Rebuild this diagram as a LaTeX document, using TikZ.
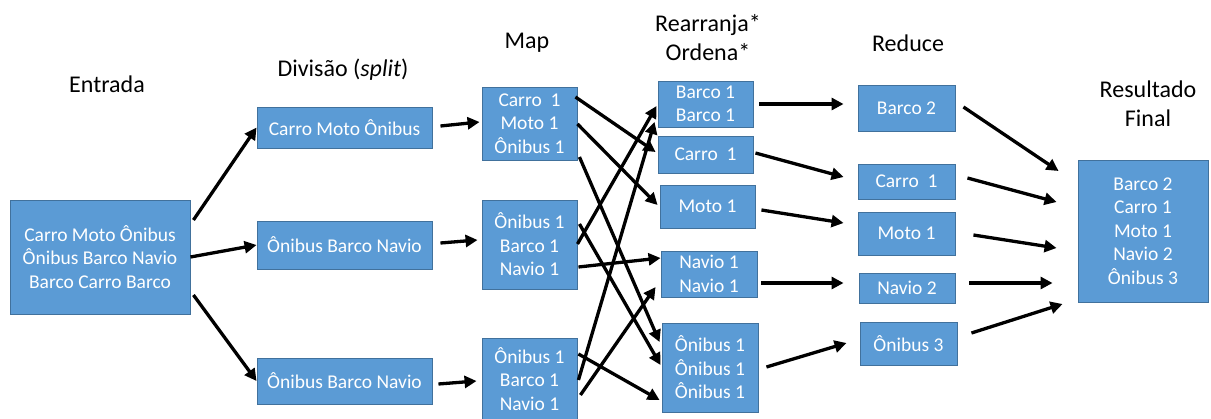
\documentclass[tikz,border=0pt]{standalone}
\usepackage{fontspec}
\setmainfont{Carlito}
\usetikzlibrary{calc,arrows.meta}
\definecolor{boxblue}{HTML}{5B9BD5}
\definecolor{boxedge}{HTML}{41719C}
\tikzset{
  bx/.style={draw=boxedge, line width=0.9pt, fill=boxblue, text=white, inner sep=0pt,
    align=center, font=\fontsize{19.5}{23.5}\selectfont},
  ttl/.style={align=center, inner sep=0pt, font=\fontsize{24}{29}\selectfont, text=black},
  arr/.style={-{Triangle[length=12pt,width=12pt]}, line width=3.3pt, black}
}
\begin{document}
\begin{tikzpicture}[x=1pt,y=-1pt]
\useasboundingbox (0,0) rectangle (1211,418);
% titles
\node[ttl] (t1) at (107,84) {Entrada};
\node[ttl] (t2) at (343,70) {Divisão (\textit{split})};
\node[ttl] (t3) at (527,43) {Map};
\node[ttl] (t4) at (708,37.5) {Rearranja*\\Ordena*};
\node[ttl] (t5) at (908,43) {Reduce};
\node[ttl] (t6) at (1148,103.5) {Resultado\\Final};
% boxes
\node[bx, minimum width=180pt, minimum height=114pt] (in) at (100,257) {Carro Moto Ônibus\\Ônibus Barco Navio\\Barco Carro Barco};
\node[bx, minimum width=175pt, minimum height=41pt] (s1) at (344.5,127.5) {Carro Moto Ônibus};
\node[bx, minimum width=175pt, minimum height=48pt] (s2) at (344.5,245) {Ônibus Barco Navio};
\node[bx, minimum width=175pt, minimum height=46pt] (s3) at (344.5,381) {Ônibus Barco Navio};
\node[bx, minimum width=95pt, minimum height=73pt] (m1) at (529.5,123.5) {Carro\ \ 1\\Moto 1\\Ônibus 1};
\node[bx, minimum width=95pt, minimum height=89pt] (m2) at (529.5,244.5) {Ônibus 1\\Barco 1\\Navio 1};
\node[bx, minimum width=95pt, minimum height=82pt] (m3) at (529.5,379) {Ônibus 1\\Barco 1\\Navio 1};
\node[bx, minimum width=95pt, minimum height=46pt] (r1) at (705.5,104) {Barco 1\\Barco 1};
\node[bx, minimum width=95pt, minimum height=37pt] (r2) at (705.5,154.5) {Carro\ \ 1};
\node[bx, minimum width=95pt, minimum height=43pt] (r3) at (707.5,206.5) {Moto 1};
\node[bx, minimum width=96pt, minimum height=46pt] (r4) at (709,274) {Navio 1\\Navio 1};
\node[bx, minimum width=96pt, minimum height=89pt] (r5) at (710,367.5) {Ônibus 1\\Ônibus 1\\Ônibus 1};
\node[bx, minimum width=97pt, minimum height=46pt] (d1) at (906.5,108) {Barco 2};
\node[bx, minimum width=97pt, minimum height=35pt] (d2) at (906.5,181.5) {Carro\ \ 1};
\node[bx, minimum width=97pt, minimum height=43pt] (d3) at (906.5,233.5) {Moto 1};
\node[bx, minimum width=96pt, minimum height=30pt] (d4) at (907,288) {Navio 2};
\node[bx, minimum width=97pt, minimum height=43pt] (d5) at (908.5,343.5) {Ônibus 3};
\node[bx, minimum width=130pt, minimum height=142pt] (f) at (1143,231) {Barco 2\\Carro 1\\Moto 1\\Navio 2\\Ônibus 3};
% arrows: input -> split
\draw[arr] ($(in.east)+(3,-37)$) -- (s1.west);
\draw[arr] (in.east) -- (s2.west);
\draw[arr] ($(in.east)+(3,38)$) -- (s3.west);
% split -> map
\draw[arr] ($(s1.east)+(8,-1.5)$) -- ($(m1.west)+(-2,-1.5)$);
\draw[arr] ($(s2.east)+(8,-2)$) -- ($(m2.west)+(-4,-4.5)$);
\draw[arr] ($(s3.east)+(6,3)$) -- ($(m3.west)+(-5,2)$);
% map -> rearrange
\draw[arr] ($(m1.east)+(-2,-26.5)$) -- ($(r2.west)+(-2,-2.5)$);
\draw[arr] ($(m1.east)+(0,0.5)$) -- ($(r3.west)+(-2,-1.5)$);
\draw[arr] ($(m1.east)+(2,33.5)$) -- ($(r5.west)+(-2,-25.5)$);
\draw[arr] ($(m2.east)+(2,-20.5)$) -- ($(r5.west)+(-1,-2.5)$);
\draw[arr] ($(m2.east)+(0,-0.5)$) -- ($(r1.west)+(-1,2)$);
\draw[arr] ($(m2.east)+(1,22.5)$) -- ($(r4.west)+(0,-16)$);
\draw[arr] ($(m3.east)+(1,-25)$) -- ($(r5.west)+(-2,32.5)$);
\draw[arr] ($(m3.east)+(1,1)$) -- ($(r1.west)+(-3,18)$);
\draw[arr] ($(m3.east)+(3,16)$) -- ($(r4.west)+(-5,13)$);
% rearrange -> reduce
\draw[arr] ($(r1.east)+(6,0)$) -- ($(d1.west)+(-14,-4)$);
\draw[arr] ($(r2.east)+(2,-1.5)$) -- ($(d2.west)+(-14,-4.5)$);
\draw[arr] ($(r3.east)+(6,3.5)$) -- ($(d3.west)+(-14,-10.5)$);
\draw[arr] ($(r4.east)+(4,9)$) -- ($(d4.west)+(-15,-5)$);
\draw[arr] ($(r5.east)+(8,-0.5)$) -- ($(d5.west)+(-13,-0.5)$);
% reduce -> final
\draw[arr] ($(d1.east)+(8,-1)$) -- ($(f.west)+(-19,-60)$);
\draw[arr] ($(d2.east)+(12,-3.5)$) -- ($(f.west)+(-21,-29)$);
\draw[arr] ($(d3.east)+(18,1.5)$) -- ($(f.west)+(-21,17)$);
\draw[arr] ($(d4.east)+(14,-5)$) -- ($(f.west)+(-25,52)$);
\draw[arr] ($(d5.east)+(14,-10.5)$) -- ($(f.west)+(-15,73)$);
\end{tikzpicture}
\end{document}
